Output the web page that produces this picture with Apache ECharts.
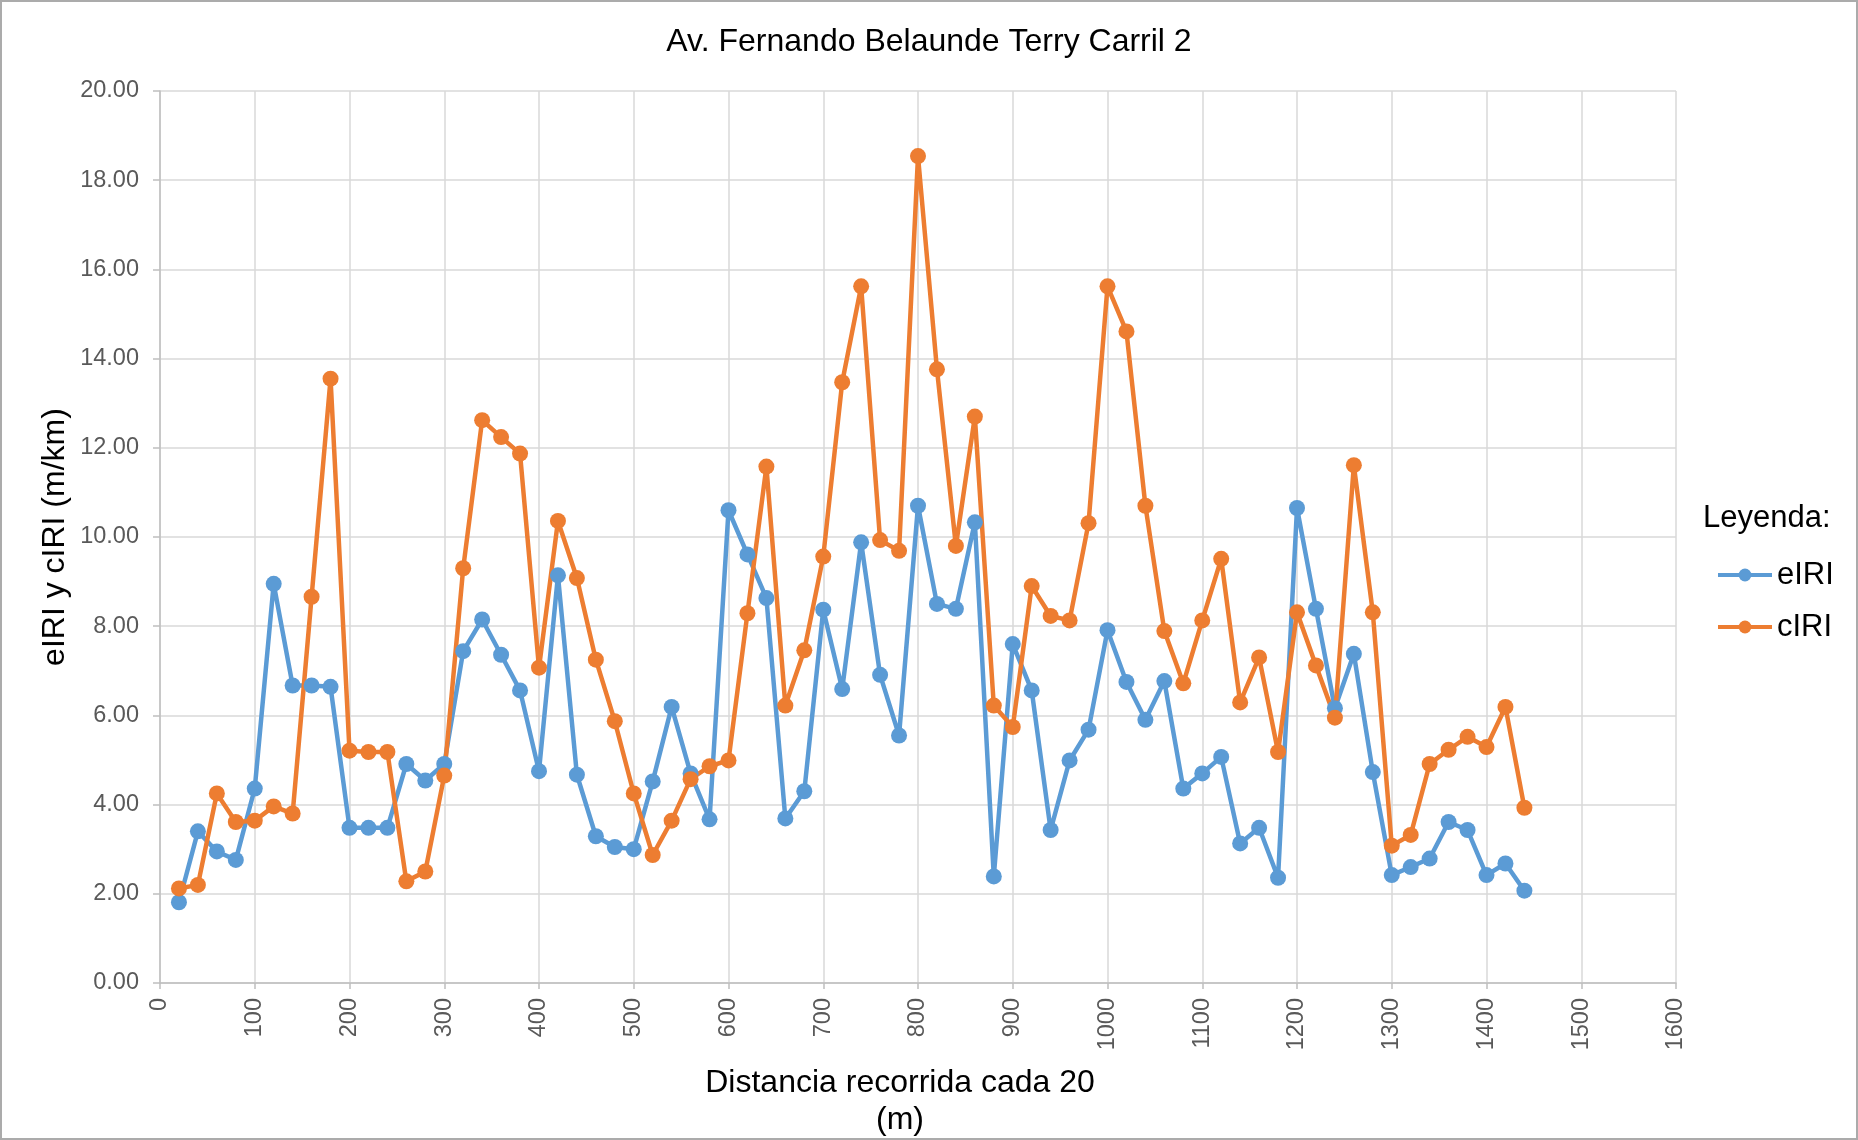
<!DOCTYPE html>
<html>
<head>
<meta charset="utf-8">
<script src="https://cdn.jsdelivr.net/npm/echarts@6/dist/echarts.min.js"></script>
<style>
html,body{margin:0;padding:0;background:#fff;}
#chart{width:1858px;height:1140px;}
</style>
</head>
<body>
<div id="chart"></div>
<script>
const titleText = 'Av. Fernando Belaunde Terry Carril 2';
const legendTitle = 'Leyenda:';
const xAxisName = 'Distancia recorrida cada 20\n(m)';
const yAxisName = 'eIRI y cIRI (m/km)';
const seriesNames = ['eIRI', 'cIRI'];

const distance = [20,40,60,80,100,120,140,160,180,200,220,240,260,280,300,320,340,360,380,400,
  420,440,460,480,500,520,540,560,580,600,620,640,660,680,700,720,740,760,780,800,
  820,840,860,880,900,920,940,960,980,1000,1020,1040,1060,1080,1100,1120,1140,1160,1180,1200,
  1220,1240,1260,1280,1300,1320,1340,1360,1380,1400,1420,1440];

const eIRI = [1.81,3.40,2.95,2.76,4.36,8.95,6.67,6.67,6.64,3.48,
  3.48,3.48,4.91,4.54,4.91,7.44,8.15,7.36,6.56,4.75,
  9.14,4.67,3.29,3.05,3.00,4.52,6.19,4.70,3.67,10.60,
  9.61,8.63,3.69,4.30,8.37,6.59,9.88,6.91,5.55,10.70,
  8.50,8.39,10.33,2.39,7.60,6.56,3.43,4.99,5.68,7.91,
  6.75,5.90,6.77,4.36,4.70,5.07,3.13,3.48,2.36,10.65,
  8.39,6.16,7.38,4.73,2.42,2.60,2.79,3.61,3.43,2.42,2.68,2.07];

const cIRI = [2.12,2.20,4.25,3.61,3.64,3.96,3.80,8.66,13.55,5.21,
  5.18,5.18,2.28,2.50,4.65,9.30,12.62,12.24,11.87,7.07,
  10.36,9.08,7.25,5.87,4.25,2.87,3.64,4.57,4.86,4.99,
  8.29,11.58,6.22,7.46,9.56,13.47,15.62,9.93,9.69,18.54,
  13.76,9.80,12.70,6.22,5.74,8.90,8.23,8.13,10.31,15.62,
  14.61,10.70,7.89,6.72,8.13,9.51,6.29,7.30,5.18,8.31,
  7.12,5.95,11.61,8.31,3.08,3.32,4.91,5.23,5.52,5.29,6.19,3.93];

const FONT = '"Liberation Sans", Arial, sans-serif';
const colors = ['#5B9BD5', '#ED7D31'];

function pairs(vals){ return distance.map((d,i)=>[d, vals[i]]); }

const chart = echarts.init(document.getElementById('chart'), null, {renderer:'canvas'});
chart.setOption({
  animation: false,
  backgroundColor: '#ffffff',
  color: colors,
  textStyle: { fontFamily: FONT },
  title: [
    { text: titleText, left: 'center', top: 23, padding: 0,
      textStyle: { fontFamily: FONT, fontSize: 32, fontWeight: 'normal', color: '#000000', lineHeight: 38 } },
    { text: legendTitle, left: 1703, top: 499, padding: 0,
      textStyle: { fontFamily: FONT, fontSize: 31, fontWeight: 'normal', color: '#000000', lineHeight: 38 } }
  ],
  graphic: [
    { type: 'rect', shape: { x: 1, y: 1, width: 1856, height: 1138 },
      style: { fill: 'none', stroke: '#ababab', lineWidth: 2 }, silent: true }
  ],
  legend: {
    orient: 'vertical',
    left: 1716,
    top: 557,
    padding: 0,
    itemGap: 16,
    itemWidth: 54,
    itemHeight: 16,
    lineStyle: { width: 4 },
    textStyle: { fontFamily: FONT, fontSize: 31, color: '#000000', lineHeight: 36 },
    data: seriesNames
  },
  grid: { left: 160, right: 182, top: 91, bottom: 157, containLabel: false, outerBoundsMode: 'none' },
  xAxis: {
    type: 'value',
    min: 0, max: 1600, interval: 100,
    name: xAxisName,
    nameLocation: 'middle',
    nameGap: 82,
    nameMoveOverlap: false,
    nameTextStyle: { fontFamily: FONT, fontSize: 32, color: '#000000', lineHeight: 37, padding: [0, 36, 0, 0] },
    axisLine: { show: true, onZero: false, lineStyle: { color: '#bfbfbf', width: 1.5 } },
    axisTick: { show: true, length: 6, lineStyle: { color: '#bfbfbf', width: 1.5 } },
    axisLabel: { rotate: 90, margin: 15, fontFamily: FONT, fontSize: 23.5, color: '#595959',
      formatter: v => String(v) },
    splitLine: { show: true, lineStyle: { color: '#d9d9d9', width: 1.5 } }
  },
  yAxis: {
    type: 'value',
    min: 0, max: 20, interval: 2,
    name: yAxisName,
    nameLocation: 'middle',
    nameGap: 89,
    nameRotate: 90,
    nameMoveOverlap: false,
    nameTextStyle: { fontFamily: FONT, fontSize: 32, color: '#000000' },
    axisLine: { show: true, lineStyle: { color: '#bfbfbf', width: 1.5 } },
    axisTick: { show: true, length: 7, lineStyle: { color: '#bfbfbf', width: 1.5 } },
    axisLabel: { margin: 21, fontFamily: FONT, fontSize: 23.5, color: '#595959',
      formatter: v => v.toFixed(2) },
    splitLine: { show: true, lineStyle: { color: '#d9d9d9', width: 1.5 } }
  },
  series: [
    { name: seriesNames[0], type: 'line', data: pairs(eIRI),
      symbol: 'circle', symbolSize: 16, showAllSymbol: true,
      lineStyle: { width: 4.5, color: colors[0] }, itemStyle: { color: colors[0] } },
    { name: seriesNames[1], type: 'line', data: pairs(cIRI),
      symbol: 'circle', symbolSize: 16, showAllSymbol: true,
      lineStyle: { width: 4.5, color: colors[1] }, itemStyle: { color: colors[1] } }
  ]
});
</script>
</body>
</html>
